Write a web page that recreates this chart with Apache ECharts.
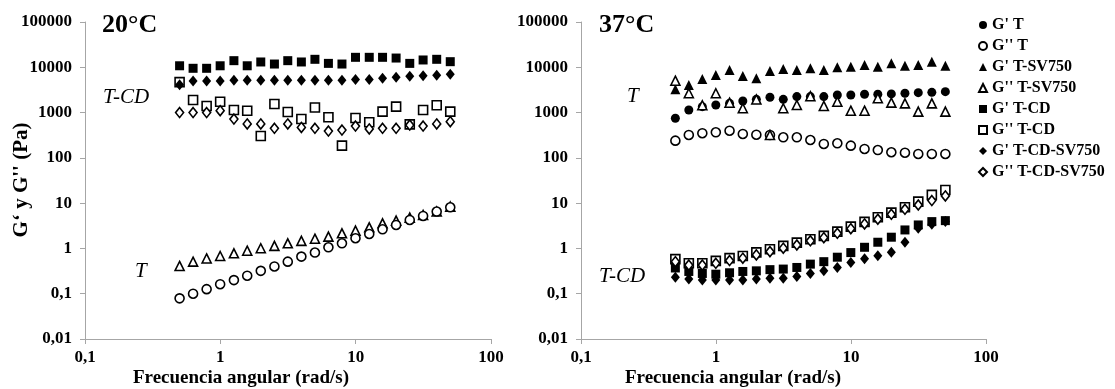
<!DOCTYPE html>
<html>
<head>
    <meta charset="utf-8">
    <script src="https://cdn.jsdelivr.net/npm/echarts@6/dist/echarts.min.js"></script>
</head>
<body style="margin:0;background:#fff;">
<div id="main" style="width:1115px;height:389px;"></div>

<script type="text/javascript">
    // frecuencia angular (rad/s), común a todas las series
    var freq = [0.5, 0.629, 0.792, 0.997, 1.26, 1.58, 1.99, 2.51, 3.15, 3.97, 5.0, 6.29, 7.92, 9.97, 12.6, 15.8, 19.9, 25.1, 31.5, 39.7, 50];

    // 20°C
    var gp_TCD_20 = [10800, 9500, 9500, 10800, 14000, 10800, 13100, 11800, 14000, 13100, 15000, 12200, 11800, 16600, 16600, 16600, 16000, 12200, 14500, 15000, 13300];
    var gpp_TCD_20 = [4700, 1900, 1400, 1740, 1140, 1100, 304, 1550, 1030, 720, 1290, 790, 186, 760, 610, 1050, 1350, 550, 1140, 1450, 1050];
    var gp_TCDSV_20 = [4100, 5000, 5000, 5000, 5200, 5200, 5200, 5200, 5200, 5200, 5200, 5200, 5200, 5400, 5400, 5700, 6000, 6300, 6500, 6700, 7000];
    var gpp_TCDSV_20 = [1000, 1000, 1000, 1100, 720, 560, 560, 450, 560, 470, 450, 390, 410, 505, 435, 450, 450, 530, 505, 560, 630];
    var gpp_TSV_20 = [0.41, 0.51, 0.60, 0.68, 0.78, 0.89, 1.01, 1.14, 1.30, 1.47, 1.64, 1.82, 2.16, 2.47, 2.93, 3.59, 4.11, 4.79, 5.49, 6.52, 8.37];
    var gpp_T_20 = [0.079, 0.10, 0.126, 0.162, 0.20, 0.25, 0.32, 0.40, 0.51, 0.66, 0.81, 1.06, 1.30, 1.68, 2.09, 2.65, 3.30, 4.26, 5.21, 6.52, 8.1];

    // 37°C
    var gp_T_37 = [750, 1140, 1350, 1470, 1600, 1800, 1960, 2180, 1960, 2250, 2250, 2250, 2450, 2450, 2540, 2540, 2580, 2670, 2750, 2800, 2900];
    var gpp_T_37 = [240, 320, 350, 367, 398, 337, 325, 320, 285, 285, 248, 203, 210, 186, 157, 149, 133, 130, 122, 122, 122];
    var gp_TSV_37 = [3270, 4060, 5520, 6760, 8720, 6430, 5710, 8280, 9160, 8720, 9510, 8720, 10000, 10300, 11200, 10300, 12200, 10860, 11200, 13300, 10860];
    var gpp_TSV_37 = [5060, 2670, 1450, 2670, 1650, 1245, 1950, 320, 1245, 1470, 2300, 1400, 1740, 1100, 1100, 2070, 1660, 1600, 1050, 1600, 1050];
    var gp_TCD_37 = [0.37, 0.31, 0.28, 0.27, 0.29, 0.31, 0.32, 0.34, 0.35, 0.38, 0.45, 0.51, 0.64, 0.81, 1.06, 1.37, 1.77, 2.56, 3.30, 3.91, 4.11];
    var gpp_TCD_37 = [0.58, 0.47, 0.47, 0.53, 0.61, 0.68, 0.82, 0.96, 1.14, 1.34, 1.59, 1.89, 2.35, 3.03, 3.85, 4.88, 6.17, 8.1, 10.8, 15.2, 19.5];
    var gp_TCDSV_37 = [0.23, 0.21, 0.20, 0.20, 0.20, 0.20, 0.21, 0.22, 0.22, 0.24, 0.28, 0.32, 0.38, 0.49, 0.59, 0.69, 0.82, 1.37, 2.79, 3.42, 3.91];
    var gpp_TCDSV_37 = [0.51, 0.43, 0.43, 0.47, 0.54, 0.61, 0.72, 0.85, 1.01, 1.19, 1.47, 1.73, 2.16, 2.73, 3.47, 4.41, 5.68, 7.31, 9.1, 11.4, 14.4];

    var names = ["G' T", "G'' T", "G' T-SV750", "G'' T-SV750", "G' T-CD", "G'' T-CD", "G' T-CD-SV750", "G'' T-CD-SV750"];

    var serif = '"Liberation Serif", "DejaVu Serif", serif';

    function pts(ys) {
        return freq.map(function (x, i) { return [x, ys[i]]; });
    }

    // símbolo, relleno y tamaño de cada serie
    var marks = {};
    marks[names[0]] = ['circle', true, 9];
    marks[names[1]] = ['circle', false, 9];
    marks[names[2]] = ['triangle', true, 10];
    marks[names[3]] = ['triangle', false, 9];
    marks[names[4]] = ['rect', true, 9];
    marks[names[5]] = ['rect', false, 9];
    marks[names[6]] = ['diamond', true, [9, 11]];
    marks[names[7]] = ['diamond', false, [8, 10]];

    function mk(name, ys, idx) {
        var m = marks[name];
        return {
            name: name,
            type: 'scatter',
            xAxisIndex: idx,
            yAxisIndex: idx,
            symbol: m[0],
            symbolSize: m[2],
            itemStyle: m[1] ? {color: '#000', borderColor: '#000', borderWidth: 0, opacity: 1}
                            : {color: '#fff', borderColor: '#000', borderWidth: 1.6, opacity: 1},
            data: pts(ys)
        };
    }

    function fmt(v) {
        return String(+v.toPrecision(6)).replace('.', ',');
    }

    function xAxis(idx) {
        return {
            type: 'log', logBase: 10, min: 0.1, max: 100, gridIndex: idx,
            axisLine: {lineStyle: {color: '#a6a6a6', width: 1}},
            axisTick: {lineStyle: {color: '#a6a6a6'}, length: 5},
            axisLabel: {fontFamily: serif, fontWeight: 'bold', fontSize: 17, color: '#000', margin: 10, formatter: fmt},
            splitLine: {show: false}, minorTick: {show: false}
        };
    }

    function yAxis(idx) {
        return {
            type: 'log', logBase: 10, min: 0.01, max: 100000, gridIndex: idx,
            axisLine: {show: true, lineStyle: {color: '#a6a6a6', width: 1}},
            axisTick: {show: true, lineStyle: {color: '#a6a6a6'}, length: 5},
            axisLabel: {fontFamily: serif, fontWeight: 'bold', fontSize: 17, color: '#000', margin: 13, formatter: fmt},
            splitLine: {show: false}
        };
    }

    function txt(x, y, s, size, bold, italic, align) {
        return {
            type: 'text', x: x, y: y,
            style: {
                text: s, fill: '#000', align: align || 'left', verticalAlign: 'middle',
                font: (italic ? 'italic ' : '') + (bold ? 'bold ' : '') + size + 'px ' + serif
            }
        };
    }

    var myChart = echarts.init(document.getElementById('main'));

    myChart.setOption({
        animation: false,
        backgroundColor: '#fff',
        grid: [
            {left: 85, top: 22, width: 406, height: 317},
            {left: 581, top: 22, width: 405, height: 317}
        ],
        xAxis: [xAxis(0), xAxis(1)],
        yAxis: [yAxis(0), yAxis(1)],
        legend: {
            data: names,
            orient: 'vertical',
            left: 973, top: 12,
            itemWidth: 8, itemHeight: 8, itemGap: 5,
            textStyle: {fontFamily: serif, fontWeight: 'bold', fontSize: 16, color: '#000'}
        },
        graphic: [
            txt(102, 25, '20°C', 26, true, false),
            txt(599, 25, '37°C', 26, true, false),
            txt(103, 97, 'T-CD', 21, false, true),
            txt(135, 271, 'T', 21, false, true),
            txt(627, 96, 'T', 21, false, true),
            txt(599, 276, 'T-CD', 21, false, true),
            txt(241, 378, 'Frecuencia angular (rad/s)', 19, true, false, 'center'),
            txt(733, 378, 'Frecuencia angular (rad/s)', 19, true, false, 'center'),
            {
                type: 'text', x: 22, y: 180, rotation: Math.PI / 2,
                style: {
                    text: "G\u2018 y G'' (Pa)", fill: '#000', align: 'center', verticalAlign: 'middle',
                    font: 'bold 21px ' + serif
                }
            }
        ],
        series: [
            mk(names[4], gp_TCD_20, 0),
            mk(names[5], gpp_TCD_20, 0),
            mk(names[6], gp_TCDSV_20, 0),
            mk(names[7], gpp_TCDSV_20, 0),
            mk(names[3], gpp_TSV_20, 0),
            mk(names[1], gpp_T_20, 0),

            mk(names[0], gp_T_37, 1),
            mk(names[1], gpp_T_37, 1),
            mk(names[2], gp_TSV_37, 1),
            mk(names[3], gpp_TSV_37, 1),
            mk(names[4], gp_TCD_37, 1),
            mk(names[5], gpp_TCD_37, 1),
            mk(names[6], gp_TCDSV_37, 1),
            mk(names[7], gpp_TCDSV_37, 1)
        ]
    });
</script>
</body>
</html>
